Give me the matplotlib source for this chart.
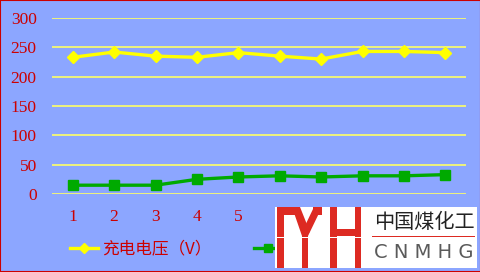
import matplotlib
matplotlib.use('Agg')
import matplotlib.pyplot as plt
from matplotlib.patches import Rectangle, Polygon
import numpy as np

W, H = 481, 272
BG = '#8CA6FF'
RED = '#CC0000'

categories = [1, 2, 3, 4, 5, 6, 7, 8, 9, 10]
voltage = [233, 242, 235, 233, 241, 235, 230, 243, 243, 241]
current = [15, 15, 15, 25, 29, 31, 29, 31, 31, 33]
yticks = [0, 50, 100, 150, 200, 250, 300]
voltage_label = '充电电压（V）'
current_label = '充电电流（A）'
logo_cn = '中国煤化工'
logo_en = 'C N M H G'


def px(x, y):
    # pixel (from top-left) -> figure fraction
    return x / W, 1 - y / H


fig = plt.figure(figsize=(W / 100, H / 100), dpi=100, facecolor=BG)
fig.patches.append(Rectangle((0, 0), 1, 1, transform=fig.transFigure, fill=False,
                             edgecolor=RED, linewidth=1.5, zorder=20))

l, t = px(52, 18)
r, b = px(466, 194)
ax = fig.add_axes([l, b, r - l, t - b], facecolor=BG)

ax.plot(categories, voltage, color='#FFFF00', linewidth=2.4, marker='D',
        markersize=6.5, label=voltage_label, zorder=3)
ax.plot(categories, current, color='#00AA00', linewidth=2.4, marker='s',
        markersize=7.5, label=current_label, zorder=3)

ax.set_xlim(0.5, len(categories) + 0.5)
ax.set_ylim(0, 300)
ax.set_yticks(yticks)
ax.set_xticks(categories)
ax.grid(axis='y', color='#FFFF66', linewidth=1.2)
ax.set_axisbelow(True)
for s in ax.spines.values():
    s.set_visible(False)
ax.tick_params(length=0, labelcolor=RED, labelsize=12.5, pad=11)
for lab in ax.get_xticklabels() + ax.get_yticklabels():
    lab.set_family('Liberation Serif')

fig.legend(loc='center left', bbox_to_anchor=px(70, 249), ncol=2, frameon=False,
           prop={'family': ['Noto Sans CJK SC', 'DejaVu Sans'], 'size': 12},
           labelcolor=RED, handlelength=1.65, handletextpad=0.25, columnspacing=2.6,
           borderpad=0, borderaxespad=0, markerscale=0.85)

# watermark logo
def rect(x0, y0, x1, y1, color):
    fx0, fy1 = px(x0, y0)
    fx1, fy0 = px(x1, y1)
    fig.patches.append(Rectangle((fx0, fy0), fx1 - fx0, fy1 - fy0, transform=fig.transFigure,
                                 facecolor=color, edgecolor='none', zorder=10))

rect(275, 207, 477, 268, 'white')
logo_red = '#DD2A22'
rect(277, 207, 284, 268, logo_red)
rect(277, 207, 298, 215, logo_red)
rect(313, 207, 322, 215, logo_red)
rect(302, 232, 308, 268, logo_red)
fig.patches.append(Polygon([px(292, 207), px(300, 207), px(310, 232), px(302, 236)],
                           closed=True, transform=fig.transFigure, facecolor=logo_red,
                           edgecolor='none', zorder=10))
fig.patches.append(Polygon([px(314, 207), px(322, 207), px(308, 236), px(302, 232)],
                           closed=True, transform=fig.transFigure, facecolor=logo_red,
                           edgecolor='none', zorder=10))
rect(330, 207, 337, 268, logo_red)
rect(355, 207, 361, 268, logo_red)
rect(330, 229, 361, 236, logo_red)
rect(275, 237, 365, 238, 'white')
rect(372, 235.5, 475, 237, logo_red)

x, y = px(424, 222)
fig.text(x, y, logo_cn, ha='center', va='center', fontsize=14.5, color='#222222',
         family=['Noto Sans CJK SC', 'DejaVu Sans'], zorder=11)
x, y = px(424, 253)
fig.text(x, y, logo_en, ha='center', va='center', fontsize=14, color='#5A5A5A',
         family='DejaVu Sans', zorder=11)

fig.savefig('out.png', dpi=100, facecolor=BG)
